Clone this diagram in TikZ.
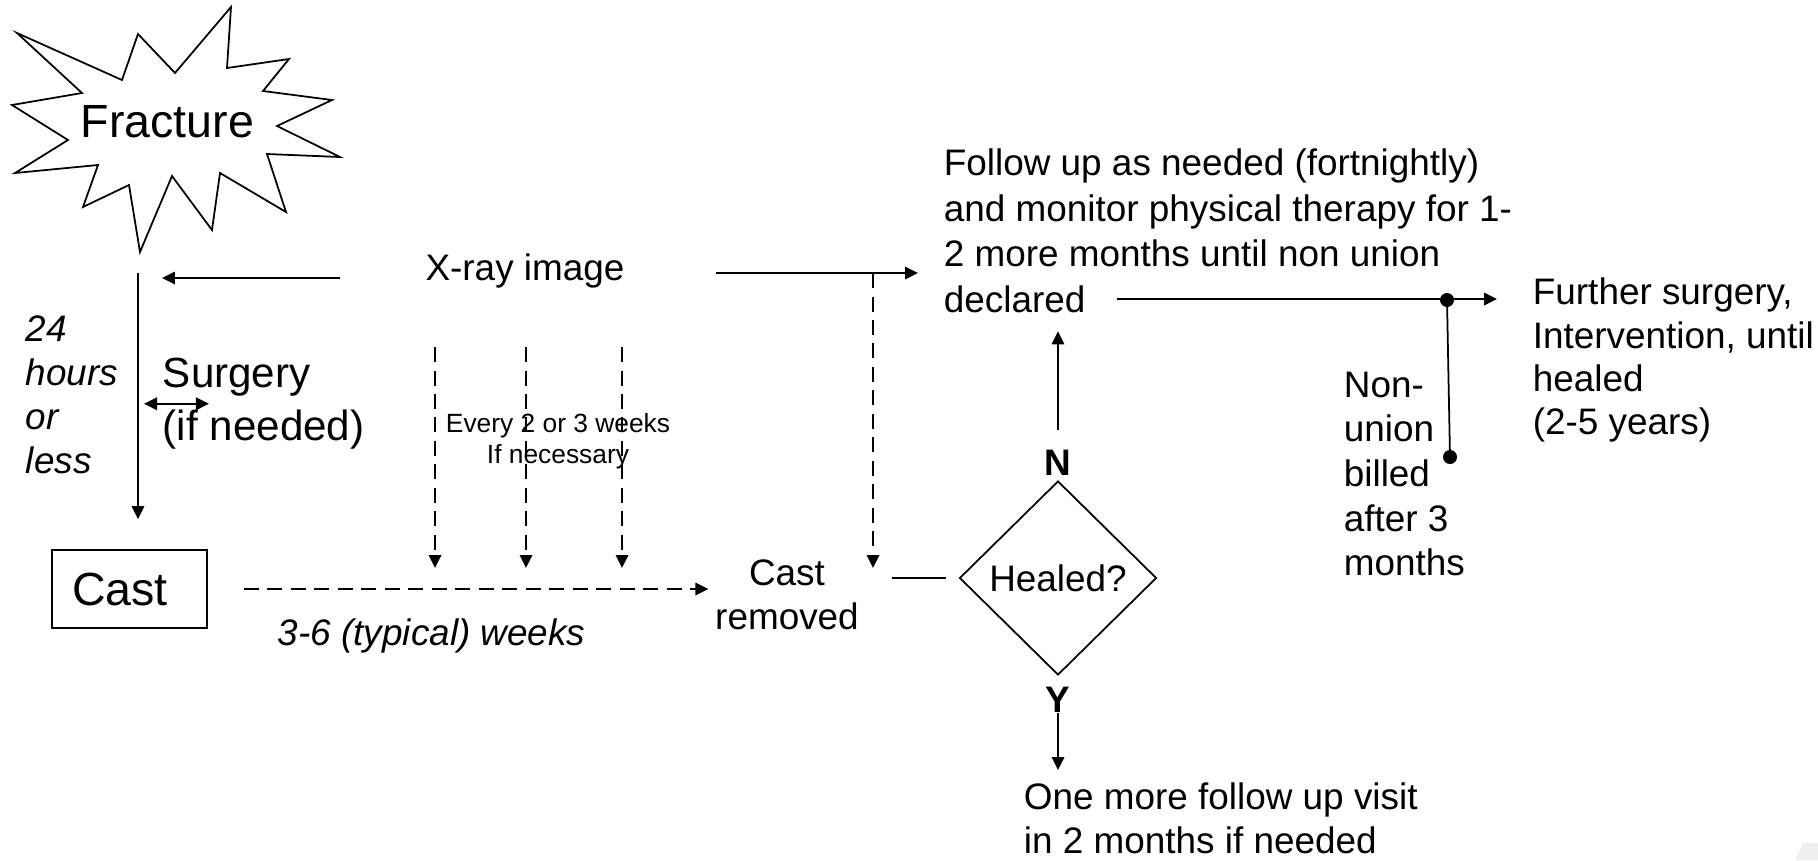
\documentclass[tikz,border=0pt]{standalone}
\usepackage{fontspec}
\setmainfont{Liberation Sans}
\usetikzlibrary{arrows.meta,shapes.geometric}
\begin{document}
\begin{tikzpicture}[x=0.02cm,y=-0.02cm,line width=1pt,
    arr/.style={-{Triangle[length=0.26cm,width=0.25cm]}},
    dbl/.style={{Triangle[length=0.26cm,width=0.25cm]}-{Triangle[length=0.26cm,width=0.25cm]}},
    dsh/.style={dash pattern=on 0.3cm off 0.17cm},
    txt/.style={inner sep=0pt,align=left,font=\fontsize{21}{25}\selectfont},
    itxt/.style={txt,font=\fontsize{21}{25}\selectfont\itshape},
    big/.style={inner sep=0pt,font=\fontsize{26.5}{30}\selectfont}]
    \useasboundingbox (0,0) rectangle (1818,860);
    
    \draw (231,7) -- (227,68) -- (289,59) -- (263,91) -- (332,100) -- (277,126) -- (340,157) -- (267,154) -- (286,212) -- (220,173) -- (212,230) -- (172,176) -- (140,252) -- (129,185) -- (83,207) -- (98,165) -- (15,173) -- (68,140) -- (12,105) -- (82,93) -- (17,33) -- (122,80) -- (138,34) -- (175,73) -- cycle;
    \node[big,anchor=base west] (fracture) at (80,137) {Fracture};
    
    \node[big,draw,minimum width=3.1cm,minimum height=1.56cm] (castbox) at (129.5,589) {Cast\rule{0.38cm}{0pt}};
    \node[txt,anchor=base] (xray) at (525,280) {X-ray image};
    \node[itxt,anchor=north west] (hours) at (25,315) {24\\hours\\or\\less};
    \node[inner sep=0pt,align=left,font=\fontsize{24}{30.5}\selectfont,anchor=north west] (surgery) at (162,357) {Surgery\\(if needed)};
    \node[inner sep=0pt,align=center,font=\fontsize{15}{17.6}\selectfont,anchor=north] (every) at (558,413) {Every 2 or 3 weeks\\If necessary};
    \node[itxt,anchor=base west] (weeks) at (277,645) {3-6 (typical) weeks};
    \node[txt,align=center,anchor=north] (castoff) at (787,559) {Cast\\removed};
    \node[txt,draw,diamond,minimum width=3.94cm,minimum height=3.88cm] (heal) at (1058,578) {Healed?};
    \node[inner sep=0pt,font=\fontsize{21}{25}\selectfont\bfseries,anchor=south] (nlab) at ([yshift=0.08cm]heal.north) {N};
    \node[inner sep=0pt,font=\fontsize{21}{25}\selectfont\bfseries,anchor=north] (ylab) at ([yshift=-0.2cm]heal.south) {Y};
    \node[txt,font=\fontsize{21}{25.9}\selectfont,anchor=north west] (follow) at (943,148) {Follow up as needed (fortnightly)\\and monitor physical therapy for 1-\\2 more months until non union\\declared};
    \node[txt,font=\fontsize{21}{24.7}\selectfont,anchor=north west] (further) at (1532,277) {Further surgery,\\Intervention, until\\healed\\(2-5 years)};
    \node[txt,font=\fontsize{21}{25.4}\selectfont,anchor=north west] (nonunion) at (1343,371) {Non-\\union\\billed\\after 3\\months};
    \node[txt,anchor=north west] (onemore) at (1023,782) {One more follow up visit\\in 2 months if needed};
    
    \coordinate (fdown) at (138,273);
    \coordinate (xl) at (340,278);
    \coordinate (xr) at (716,273);
    \coordinate (xj) at (873,273);
    \coordinate (decl) at (1117,299);
    \coordinate (jtop) at (1447,300);
    \coordinate (jbot) at (1450,457);
    
    % fracture to cast, x-ray back to fracture
    \draw[arr,shorten >=0.6cm] (fdown) -- (fdown |- castbox.north);
    \draw[arr,shorten >=0.48cm] (xl) -- (xl -| fdown);
    \draw[dbl] ([xshift=-0.36cm]surgery.west) -- ([xshift=0.94cm]surgery.west);
    
    % x-ray checks
    \draw[arr,shorten >=0.5cm] (xr) -- (xr -| follow.west);
    \draw[arr,dsh] (xj) -- ++(0,295);
    \foreach \x in {435,526,622}
        \draw[arr,dsh] (\x,347) -- (\x,568);
    
    \draw[arr,dsh,shorten >=0.12cm] ([xshift=0.72cm]castbox.east) -- (castoff.west |- castbox.east);
    \draw[shorten <=0.64cm,shorten >=0.26cm] (castoff.east |- heal.west) -- (heal.west);
    
    % healed or not
    \draw[arr,shorten <=0.38cm,shorten >=0.36cm] (nlab.north) -- (nlab.north |- follow.south);
    \draw[arr,shorten >=0.24cm] (ylab.south) -- (ylab.south |- onemore.north);
    \draw[arr,shorten >=0.7cm] (decl) -- (decl -| further.west);
    \draw (jtop) -- (jbot);
    \fill (jtop) circle (0.14cm) (jbot) circle (0.14cm);
    
    \fill[black!6] (1803,843) -- (1818,843) -- (1818,860) -- (1795,860) -- cycle;
\end{tikzpicture}
\end{document}
